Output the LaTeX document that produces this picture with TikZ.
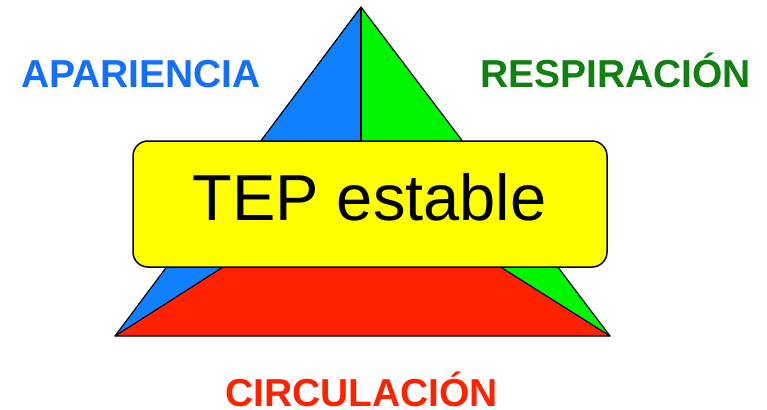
\documentclass[tikz,border=0pt]{standalone}
\usepackage{fontspec}
\setmainfont{Liberation Sans}
\definecolor{triblue}{RGB}{17,128,255}
\definecolor{trigreen}{RGB}{0,245,0}
\definecolor{trired}{RGB}{255,34,0}
\definecolor{txtblue}{RGB}{20,110,255}
\definecolor{txtgreen}{RGB}{16,128,16}
\definecolor{txtred}{RGB}{255,34,0}
\definecolor{boxyellow}{RGB}{255,255,0}
\begin{document}
\begin{tikzpicture}[x=1pt,y=-1pt,
  part/.style={draw=black,line width=1.2pt,line join=round},
  label/.style={font=\bfseries\fontsize{39}{39}\selectfont,anchor=base,inner sep=0pt},
  tepbox/.style={draw=black,line width=1.5pt,fill=boxyellow,rounded corners=15pt,
    minimum width=474pt,minimum height=126pt,inner sep=0pt}]
\useasboundingbox (0,0) rectangle (767,409);
\coordinate (apex) at (361,7);
\coordinate (bl) at (115,336);
\coordinate (br) at (610,336);
\coordinate (mid) at (361,179);
\fill[triblue] (apex) -- (bl) -- (mid) -- cycle;
\fill[trigreen] (apex) -- (mid) -- (br) -- cycle;
\fill[trired] (bl) -- (br) -- (mid) -- cycle;
\draw[part] (apex) -- (bl) -- (br) -- cycle;
\draw[part] (apex) -- (mid);
\draw[part] (bl) -- (mid) -- (br);
\node[tepbox] (box) at (370,204) {};
\node[font=\fontsize{65}{65}\selectfont,anchor=base,inner sep=0pt] (tep) at (369.5,220) {TEP estable};
\node[label,text=txtblue] (apar) at (141,88) {APARIENCIA};
\node[label,text=txtgreen] (resp) at (615.5,88) {RESPIRACIÓN};
\node[label,text=txtred] (circ) at (361.5,406) {CIRCULACIÓN};
\end{tikzpicture}
\end{document}
